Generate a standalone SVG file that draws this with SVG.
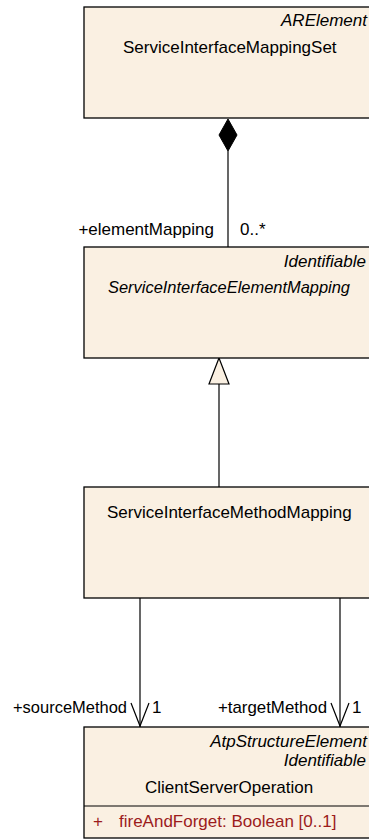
<svg xmlns="http://www.w3.org/2000/svg" width="369" height="839" viewBox="0 0 369 839">
<style>
.box{fill:#FAF0E2;stroke:#000;stroke-width:1.3}
text{font-family:"Liberation Sans",Arial,sans-serif;font-size:17px;fill:#000}
.it{font-style:italic}
.end{text-anchor:end}
.attr{fill:#9C1C1C}
.ln{stroke:#000;stroke-width:1.2;fill:none}
</style>
<rect width="369" height="839" fill="#fff"/>
<g id="connectors">
<line class="ln" x1="228" y1="151" x2="228" y2="247"/>
<polygon points="228,119 237,135 228,151 219,135" fill="#000" stroke="#000"/>
<text x="214" y="235" class="end">+elementMapping</text>
<text x="240" y="235">0..*</text>
<line class="ln" x1="219" y1="384" x2="219" y2="487"/>
<polygon points="219,358 229,384 209,384" fill="#FAF0E2" stroke="#000" stroke-width="1.2"/>
<line class="ln" x1="140" y1="598" x2="140" y2="727"/>
<polyline class="ln" points="131,703 140,726 149,703"/>
<line class="ln" x1="340" y1="598" x2="340" y2="727"/>
<polyline class="ln" points="331,703 340,726 349,703"/>
<text x="127" y="713" class="end" textLength="114" lengthAdjust="spacingAndGlyphs">+sourceMethod</text>
<text x="152" y="713">1</text>
<text x="327" y="713" class="end" textLength="109" lengthAdjust="spacingAndGlyphs">+targetMethod</text>
<text x="352" y="713">1</text>
</g>
<g id="ServiceInterfaceMappingSet">
<rect class="box" x="84" y="7" width="300" height="111"/>
<text x="367" y="26" class="it end">ARElement</text>
<text x="123" y="53">ServiceInterfaceMappingSet</text>
</g>
<g id="ServiceInterfaceElementMapping">
<rect class="box" x="84" y="247" width="300" height="111"/>
<text x="366" y="267" class="it end">Identifiable</text>
<text x="108" y="293" class="it" textLength="242" lengthAdjust="spacingAndGlyphs">ServiceInterfaceElementMapping</text>
</g>
<g id="ServiceInterfaceMethodMapping">
<rect class="box" x="84" y="487" width="300" height="111"/>
<text x="107" y="518">ServiceInterfaceMethodMapping</text>
</g>
<g id="ClientServerOperation">
<rect class="box" x="84" y="727" width="300" height="111"/>
<line x1="84" y1="806" x2="384" y2="806" stroke="#000" stroke-width="1.2"/>
<text x="367" y="747" class="it end">AtpStructureElement</text>
<text x="366" y="766" class="it end">Identifiable</text>
<text x="145" y="793">ClientServerOperation</text>
<text x="93" y="827" class="attr">+</text>
<text x="119" y="827" class="attr">fireAndForget: Boolean [0..1]</text>
</g>
</svg>
